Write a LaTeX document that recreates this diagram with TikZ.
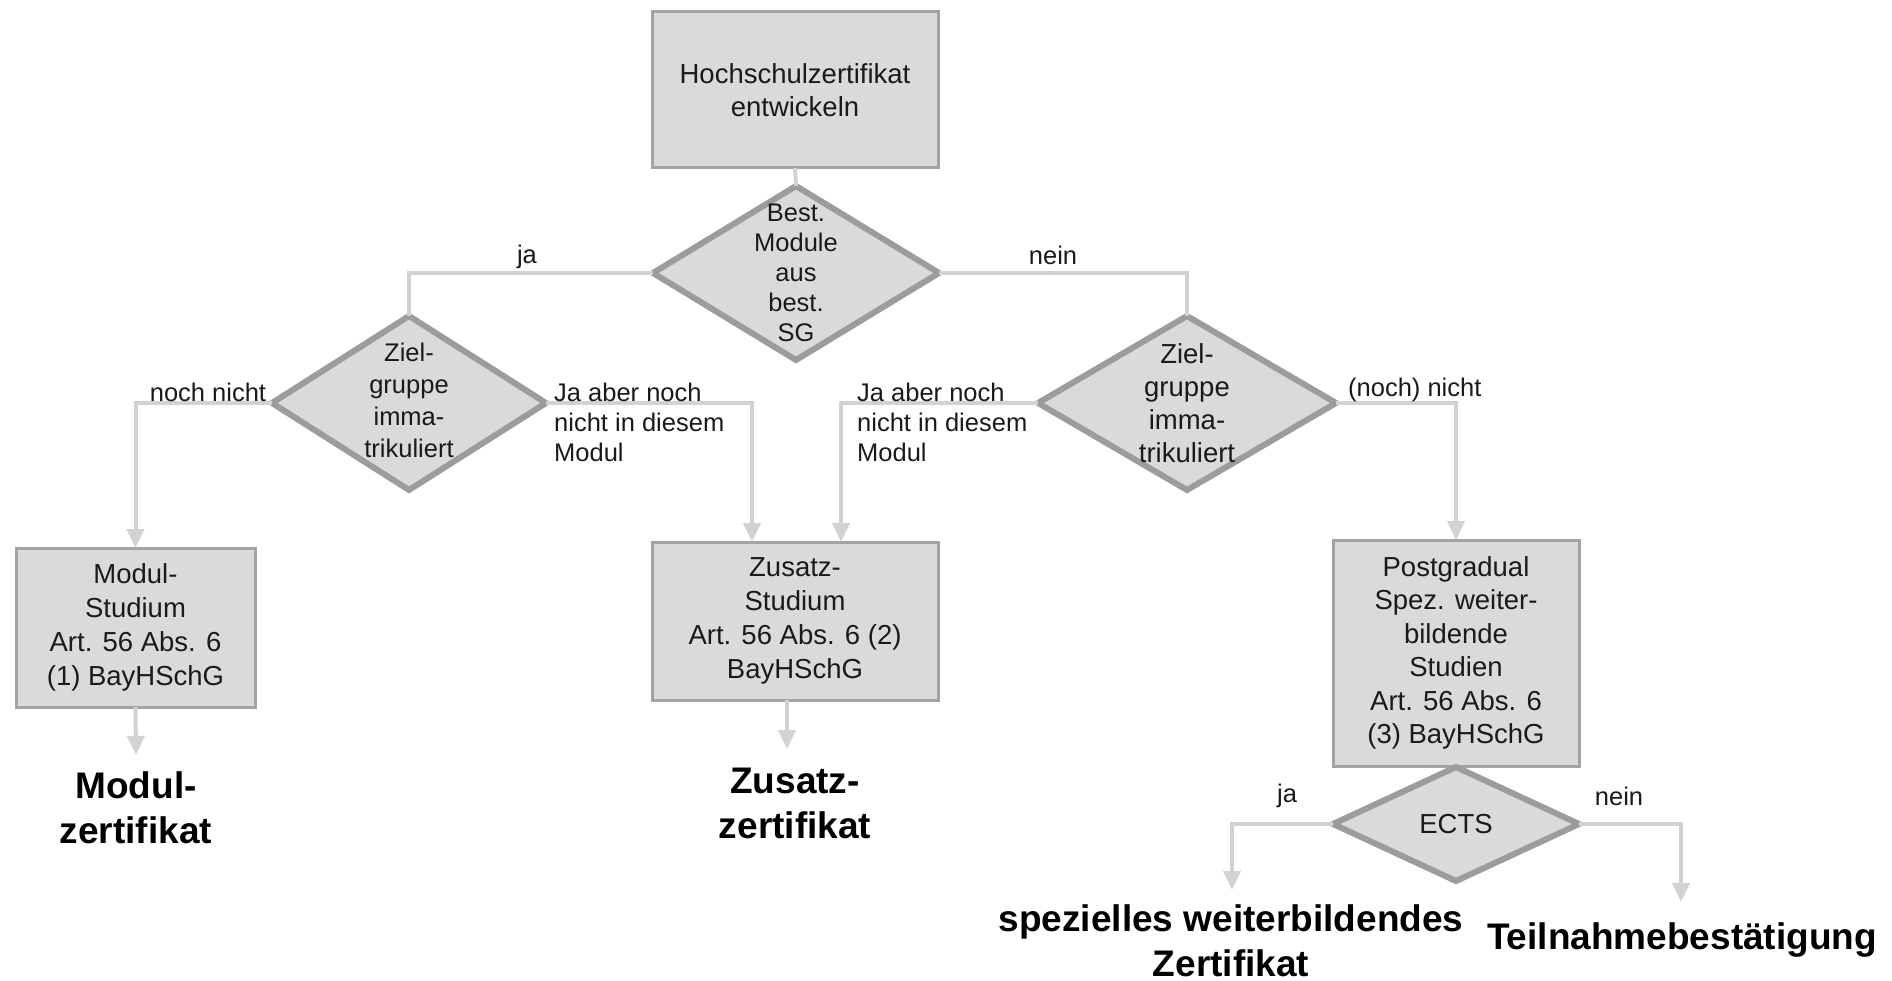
\documentclass[tikz,border=0pt]{standalone}
\usepackage{fontspec}
\setmainfont{Liberation Sans}
\usetikzlibrary{shapes.geometric,arrows.meta}
\definecolor{boxfill}{HTML}{DADADA}
\definecolor{boxline}{HTML}{A3A3A3}
\definecolor{dialine}{HTML}{9C9C9C}
\definecolor{conn}{HTML}{D2D2D2}
\definecolor{ink}{HTML}{1A1A1A}
\begin{document}
\begin{tikzpicture}[x=1pt,y=-1pt,
  box/.style={draw=boxline,line width=3pt,fill=boxfill,align=center,inner sep=0pt,outer sep=0pt,
    font=\fontsize{27.5}{34}\selectfont,text=ink},
  dia/.style={shape=diamond,draw=dialine,line width=6pt,fill=boxfill,inner sep=0pt,outer sep=0pt},
  dtext/.style={align=center,inner sep=0pt,font=\fontsize{25.5}{30}\selectfont,text=ink},
  dtextbig/.style={align=center,inner sep=0pt,font=\fontsize{27.5}{33}\selectfont,text=ink},
  lbl/.style={align=left,inner sep=0pt,font=\fontsize{25.5}{30}\selectfont,text=ink},
  result/.style={align=center,inner sep=0pt,font=\bfseries\fontsize{37}{45}\selectfont,text=black},
  link/.style={draw=conn,line width=4pt},
  arr/.style={link,-{Triangle[width=17pt,length=19pt]}},
]
\useasboundingbox (0,0) rectangle (1892,981);

% process boxes
\node[box,font=\fontsize{27.5}{33}\selectfont,minimum width=286pt,minimum height=156pt] (top) at (795,90) {Hochschulzertifikat\\entwickeln};
\node[box,minimum width=239pt,minimum height=159pt] (modul) at (135.5,627.5) {Modul-\\Studium\\Art. 56 Abs. 6\\(1) BayHSchG};
\node[box,minimum width=286pt,minimum height=158pt] (zus) at (795,621) {Zusatz-\\Studium\\Art. 56 Abs. 6 (2)\\BayHSchG};
\node[box,font=\fontsize{27.5}{33.5}\selectfont,minimum width=246pt,minimum height=226pt] (post) at (1456,653) {Postgradual\\Spez. weiter-\\bildende\\Studien\\Art. 56 Abs. 6\\(3) BayHSchG};

% decisions
\node[dia,minimum width=286pt,minimum height=174pt] (d0) at (796,273) {};
\node[dtext] (d0t) at (d0.center) {Best.\\Module\\aus\\best.\\SG};
\node[dia,minimum width=274pt,minimum height=174pt] (dL) at (409,403) {};
\node[dtext,font=\fontsize{25.5}{32}\selectfont] (dLt) at ([yshift=3pt]dL.center) {Ziel-\\gruppe\\imma-\\trikuliert};
\node[dia,minimum width=298pt,minimum height=174pt] (dR) at (1187,403) {};
\node[dtextbig] (dRt) at (dR.center) {Ziel-\\gruppe\\imma-\\trikuliert};
\node[dia,minimum width=246pt,minimum height=114pt] (ects) at (1456,824) {};
\node[dtextbig] (ectst) at (ects.center) {ECTS};

% results
\node[result] (modcert) at (136,808) {Modul-\\zertifikat};
\node[result] (zuscert) at (795,803) {Zusatz-\\zertifikat};
\node[result] (speccert) at (1231,941) {spezielles weiterbildendes\\Zertifikat};
\node[result] (teiln) at (1682,940) {Teilnahmebestätigung};

% free ends of the result arrows
\coordinate (modend) at (136,755);
\coordinate (zusend) at (787,749);
\coordinate (ectsja) at (1232,890);
\coordinate (ectsnein) at (1681,902);

% connectors
\draw[link] (top.south) -- (d0.north);
\draw[link] (d0.west) -| (dL.north);
\draw[link] (d0.east) -| (dR.north);
\draw[arr] (dL.west) -| (modul.north);
\draw[arr] (dL.east) -| ([xshift=-43pt]zus.north);
\draw[arr] (dR.west) -| ([xshift=46pt]zus.north);
\draw[arr] (dR.east) -| (post.north);
\draw[arr] (modul.south) -- (modend);
\draw[arr] (zusend |- zus.south) -- (zusend);
\draw[arr] (ects.west) -| (ectsja);
\draw[arr] (ects.east) -| (ectsnein);

% branch labels
\node[lbl] (lja) at (527,257) {ja};
\node[lbl] (lnein) at (1053,255) {nein};
\node[lbl] (lnn) at (208,392) {noch nicht};
\node[lbl,anchor=west] (ljaL) at (554,422) {Ja aber noch\\nicht in diesem\\Modul};
\node[lbl,anchor=west] (ljaR) at (857,422) {Ja aber noch\\nicht in diesem\\Modul};
\node[lbl,anchor=west] (lnochR) at (1348,390) {(noch) nicht};
\node[lbl] (lectsja) at (1287,796) {ja};
\node[lbl] (lectsnein) at (1619,796) {nein};
\end{tikzpicture}
\end{document}
